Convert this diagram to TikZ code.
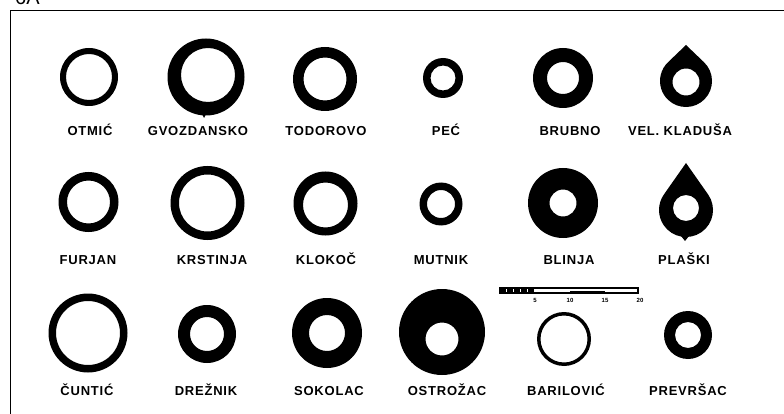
\documentclass[tikz,border=0pt]{standalone}
\usepackage{fontspec}
\setmainfont{Liberation Sans}
\newfontfamily\labfont[LetterSpace=6]{Liberation Sans}
\newcommand\ringat[4]{\fill[ringfill] (#1) circle[radius=#2] (#3) circle[radius=#4];}
\newcommand\dropat[7]{%
  \pgfmathsetmacro\dalpha{acos(#3/#4)}%
  \fill[ringfill] (#1,#2) ++({-90+\dalpha}:#3)
    arc[start angle={-90+\dalpha}, end angle={270-\dalpha}, radius=#3]
    -- (#1,#2-#4) -- cycle (#6,#7) circle[radius=#5];}
\tikzset{
  ringfill/.style={fill=black, even odd rule},
  lab/.style={font=\labfont\bfseries\fontsize{13}{13}\selectfont, inner sep=0pt, anchor=base},
  scalelab/.style={font=\bfseries\fontsize{6}{6}\selectfont, inner sep=0pt, anchor=center},
  frameline/.style={line width=1.5pt, black}
}
\begin{document}
\begin{tikzpicture}[x=1pt,y=-1pt]
\useasboundingbox (0,0) rectangle (784,414);
\clip (0,0) rectangle (784,414);
\fill[white] (0,0) rectangle (784,414);
% title (cut off at top, as in the reference)
\node[font=\fontsize{20}{20}\selectfont, anchor=base west, inner sep=0pt] (title) at (15,5) {6A};
% frame
\draw[frameline] (10.5,414) -- (10.5,10.5) -- (784,10.5);
% row 1
\ringat{89,77}{29}{89,77}{23}
\ringat{206,77}{38.5}{208,75}{27}
\fill (202,114) -- (206,114) -- (204,118) -- cycle;
\ringat{325,79}{32}{325,79}{21.5}
\ringat{443,78}{20}{443,78}{12.5}
\ringat{563,78}{30}{563,78}{16}
\dropat{686}{81}{26}{36}{13.5}{686}{82}
% row 2
\ringat{88.5,202}{30}{88.5,202}{21.5}
\ringat{207.5,203}{37}{207.5,203}{28.5}
\ringat{325.5,203.5}{32}{325.5,205}{22.5}
\ringat{441,204}{21.5}{441,204}{14}
\ringat{563,203}{35}{563,203}{13.5}
\dropat{686}{210}{27}{47}{13}{686}{208}
\fill (681,236) -- (689,236) -- (685,241) -- cycle;
% row 3
\ringat{88,333}{39.5}{88,333}{32}
\ringat{207,334}{29}{207,334}{17}
\ringat{327,333}{35}{327,333}{18}
\ringat{442,332}{43}{442,339}{16.5}
\ringat{564,339}{27}{564,339}{23.5}
\ringat{688,335}{24}{688,335}{13}
% scale bar
\draw[line width=1.2pt] (500,288) rectangle (638,293);
\foreach \i in {0,...,4} \fill (500+7*\i,288) rectangle ++(6,5);
\fill (570,290.5) rectangle (605,293);
\node[scalelab] (s5) at (535,300) {5};
\node[scalelab] (s10) at (570,300) {10};
\node[scalelab] (s15) at (605,300) {15};
\node[scalelab] (s20) at (640,300) {20};
% labels row 1
\node[lab] (otmic) at (90,136) {OTMIĆ};
\node[lab] (gvozdansko) at (198,136) {GVOZDANSKO};
\node[lab] (todorovo) at (326,136) {TODOROVO};
\node[lab] (pec) at (446,136) {PEĆ};
\node[lab] (brubno) at (570,136) {BRUBNO};
\node[lab] (kladusa) at (680,136) {VEL. KLADUŠA};
% labels row 2
\node[lab] (furjan) at (88,264) {FURJAN};
\node[lab] (krstinja) at (212,264) {KRSTINJA};
\node[lab] (klokoc) at (326,264) {KLOKOČ};
\node[lab] (mutnik) at (441,264) {MUTNIK};
\node[lab] (blinja) at (569,264) {BLINJA};
\node[lab] (plaski) at (684,264) {PLAŠKI};
% labels row 3
\node[lab] (cuntic) at (87,395) {ČUNTIĆ};
\node[lab] (dreznik) at (206,395) {DREŽNIK};
\node[lab] (sokolac) at (329,395) {SOKOLAC};
\node[lab] (ostrozac) at (447,395) {OSTROŽAC};
\node[lab] (barilovic) at (566,395) {BARILOVIĆ};
\node[lab] (prevrsac) at (688,395) {PREVRŠAC};
\end{tikzpicture}
\end{document}
